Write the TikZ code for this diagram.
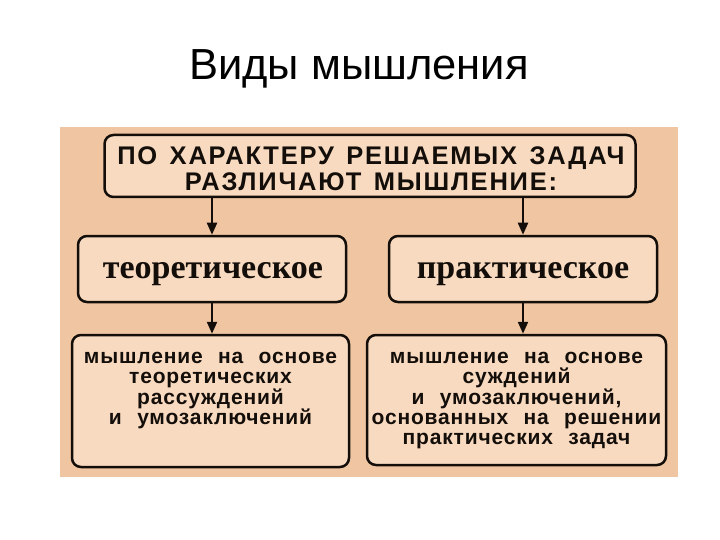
\documentclass[tikz,border=0pt]{standalone}
\usepackage{fontspec}
\setmainfont{Liberation Sans}
\newfontfamily\serifbold{Liberation Serif}[UprightFont=* Bold]
\newfontfamily\topfam{Liberation Sans}[UprightFont=* Bold, LetterSpace=7, WordSpace=1.4]
\newfontfamily\lowfam{Liberation Sans}[UprightFont=* Bold, LetterSpace=4, WordSpace=2.3]
\usetikzlibrary{arrows.meta}
\definecolor{bgpeach}{RGB}{240,198,162}
\definecolor{boxfill}{RGB}{248,218,192}
\definecolor{ink}{RGB}{20,14,10}
\begin{document}
\begin{tikzpicture}[x=1pt,y=-1pt,
  box/.style={draw=ink, line width=2.5pt, fill=boxfill, rounded corners=9pt, inner sep=0pt},
  arr/.style={draw=ink, line width=2.2pt, -{Triangle[length=12pt,width=10pt]}},
  toptext/.style={font=\topfam\fontsize{25.5}{26}\selectfont, text=ink, align=center},
  midtext/.style={font=\serifbold\fontsize{34}{36}\selectfont, text=ink},
  lowtext/.style={font=\lowfam\fontsize{21}{20.3}\selectfont, text=ink, align=center, inner sep=0pt}
]
\useasboundingbox (0,0) rectangle (720,540);
\fill[bgpeach] (60,127) rectangle (678,477);
\node[font=\fontsize{43.5}{45}\selectfont, anchor=base, inner sep=0pt] (title) at (359,80) {Виды мышления};

\node[box, minimum width=531pt, minimum height=62pt] (top) at (370,166) {};
\node[toptext] (toptxt) at (371,169) {ПО ХАРАКТЕРУ РЕШАЕМЫХ ЗАДАЧ\\РАЗЛИЧАЮТ МЫШЛЕНИЕ:};

\node[box, minimum width=268pt, minimum height=66pt] (theo) at (212,269) {};
\node[midtext] (theotxt) at (213,274) {теоретическое};
\node[box, minimum width=268pt, minimum height=66pt] (prac) at (523,269) {};
\node[midtext] (practxt) at (523,274) {практическое};

\node[box, minimum width=277pt, minimum height=132pt] (theod) at (210.5,401) {};
\node[lowtext, anchor=north] (theodtxt) at (210.5,352) {мышление на основе\\теоретических\\рассуждений\\и умозаключений};
\node[box, minimum width=299pt, minimum height=130pt] (pracd) at (516.5,400) {};
\node[lowtext, anchor=north] (pracdtxt) at (516.5,352) {мышление на основе\\суждений\\и умозаключений,\\основанных на решении\\практических задач};

\draw[arr] (top.south -| theo.north) -- (theo.north);
\draw[arr] (top.south -| prac.north) -- (prac.north);
\draw[arr] (theo.south) -- (theo.south |- theod.north);
\draw[arr] (prac.south) -- (prac.south |- pracd.north);
\end{tikzpicture}
\end{document}
